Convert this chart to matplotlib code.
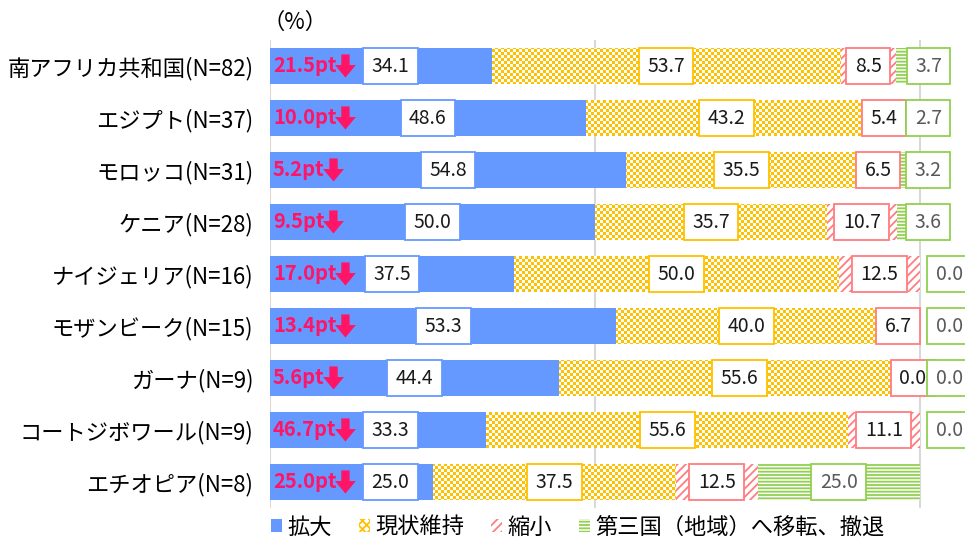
import numpy as np
import matplotlib.pyplot as plt
from matplotlib.patches import Patch, Rectangle
from matplotlib.path import Path
from matplotlib.colors import to_rgb

plt.rcParams['font.family'] = ['Noto Sans CJK JP', 'DejaVu Sans']

countries = ['南アフリカ共和国(N=82)', 'エジプト(N=37)', 'モロッコ(N=31)', 'ケニア(N=28)',
             'ナイジェリア(N=16)', 'モザンビーク(N=15)', 'ガーナ(N=9)',
             'コートジボワール(N=9)', 'エチオピア(N=8)']
expand = [34.1, 48.6, 54.8, 50.0, 37.5, 53.3, 44.4, 33.3, 25.0]
keep = [53.7, 43.2, 35.5, 35.7, 50.0, 40.0, 55.6, 55.6, 37.5]
shrink = [8.5, 5.4, 6.5, 10.7, 12.5, 6.7, 0.0, 11.1, 12.5]
withdraw = [3.7, 2.7, 3.2, 3.6, 0.0, 0.0, 0.0, 0.0, 25.0]
pt_drop = [21.5, 10.0, 5.2, 9.5, 17.0, 13.4, 5.6, 46.7, 25.0]
series_names = ['拡大', '現状維持', '縮小', '第三国（地域）へ移転、撤退']

blue = '#6699FF'
yellow = '#FFC000'
pink = '#FF7C80'
green = '#92D050'
red = '#FF1466'

W, H = 965, 542
fig = plt.figure(figsize=(W / 100, H / 100), dpi=100)
ax_px = (270, 34, 695, 468)
ax = fig.add_axes([ax_px[0] / W, ax_px[1] / H, ax_px[2] / W, ax_px[3] / H])

y = np.arange(len(countries))
h = 0.71
xmax = 100 * 695 / 650
px_per_unit = 650 / 100
left_keep = np.array(expand)
left_shr = left_keep + np.array(keep)
left_wd = left_shr + np.array(shrink)

b_exp = ax.barh(y, expand, height=h, color=blue, zorder=2)
b_keep = ax.barh(y, keep, left=left_keep, height=h, color='white', zorder=2)
plt.rcParams['hatch.linewidth'] = 1.3
b_shr = ax.barh(y, shrink, left=left_shr, height=h, facecolor='white', edgecolor=pink,
                hatch='////', linewidth=0, zorder=2)
b_wd = ax.barh(y, withdraw, left=left_wd, height=h, facecolor='white', edgecolor=green,
               hatch='-----', linewidth=0, zorder=2)

# checker texture for the "現状維持" bars, clipped to them
ii, jj = np.mgrid[0:ax_px[3], 0:ax_px[2]]
cell = ((ii // 3 + jj // 3) % 2).astype(bool)
tex = np.ones((ax_px[3], ax_px[2], 3))
tex[cell] = to_rgb(yellow)
clip = Path.make_compound_path(*[b.get_path().transformed(b.get_patch_transform()) for b in b_keep])
im = ax.imshow(tex, extent=(0, xmax, 8.5, -0.5), aspect='auto', interpolation='nearest', zorder=2.5)
im.set_clip_path(clip, ax.transData)

ax.set_xlim(0, xmax)
ax.set_ylim(8.5, -0.5)

renderer = fig.canvas.get_renderer()


def box_label(x, yy, val, ec, tc='#1A1A1A'):
    t = ax.text(x, yy, f'{val:.1f}', ha='center', va='center', fontsize=14, color=tc, zorder=6)
    wpx = t.get_window_extent(renderer).width + 17
    bw = wpx / px_per_unit
    ax.add_patch(Rectangle((x - bw / 2, yy - h / 2), bw, h, facecolor='white', edgecolor=ec,
                           lw=1.3, zorder=5, clip_on=False))


def beside(artist, dx):
    return lambda r: artist.get_window_extent(r).translated(dx, 0)


for i in y:
    box_label(max(expand[i] / 2, 18.5), i, expand[i], blue)
    box_label(left_keep[i] + keep[i] / 2, i, keep[i], yellow)
    if shrink[i] == 0:
        box_label(98.9, i, shrink[i], pink)
    else:
        box_label(left_shr[i] + shrink[i] / 2, i, shrink[i], pink)
    if withdraw[i] == 0:
        wx = 104.5
    elif withdraw[i] < 5:
        wx = 101.3
    else:
        wx = left_wd[i] + withdraw[i] / 2
    box_label(wx, i, withdraw[i], green, tc='#595959')
    pt = ax.text(0.45, i, f'{pt_drop[i]:.1f}pt', ha='left', va='center', fontsize=14.5,
                 fontweight='bold', color=red, zorder=7)
    loc = beside(pt, 9)
    ax.annotate('', xy=(1, -0.05), xycoords=loc, xytext=(1, 1.05), textcoords=loc,
                arrowprops=dict(arrowstyle='simple,head_length=0.75,head_width=1.25,tail_width=0.5',
                                mutation_scale=12, color=red, shrinkA=0, shrinkB=0, lw=0),
                zorder=7)

ax.set_xticks([0, 50, 100])
ax.xaxis.grid(True, color='#D9D9D9', lw=1.5)
ax.set_axisbelow(True)
ax.tick_params(axis='x', length=0, labelbottom=False)
ax.set_yticks(y, countries, fontsize=16)
ax.tick_params(axis='y', length=0, pad=12)
for s in ax.spines.values():
    s.set_visible(False)

fig.text(262 / W, 1 - 22 / H, '（%）', fontsize=16, ha='left', va='center')

handles = [Patch(facecolor=blue, linewidth=0),
           Patch(facecolor='white', edgecolor=yellow, hatch='xxxx', linewidth=0),
           Patch(facecolor='white', edgecolor=pink, hatch='////', linewidth=0),
           Patch(facecolor='white', edgecolor=green, hatch='-----', linewidth=0)]
fig.legend(handles, series_names, loc='center', bbox_to_anchor=(578 / W, 1 - 527 / H), ncol=4,
           frameon=False, fontsize=16, handlelength=0.5, handleheight=0.5,
           handletextpad=0.25, columnspacing=1.2, borderaxespad=0)

fig.savefig('out.png', dpi=100)
